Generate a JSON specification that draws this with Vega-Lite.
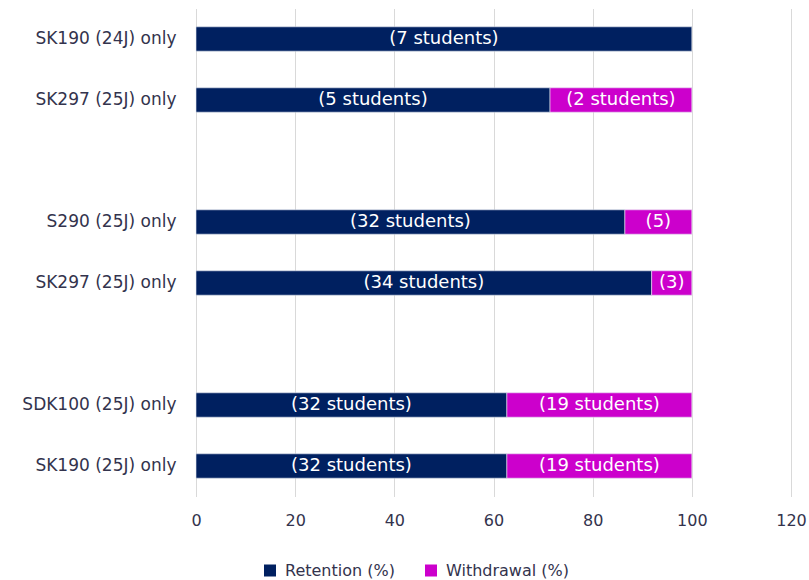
{
  "$schema": "https://vega.github.io/schema/vega-lite/v6.json",
  "width": 595,
  "height": 488,
  "autosize": "none",
  "padding": {"left": 196, "top": 8.5, "right": 18, "bottom": 83.5},
  "background": "white",
  "config": {
    "view": {"stroke": null},
    "font": "DejaVu Sans",
    "axis": {"labelColor": "#33334d", "labelFont": "DejaVu Sans"},
    "legend": {"labelColor": "#33334d", "labelFont": "DejaVu Sans"}
  },
  "data": {
    "values": [
      {"row": "1|SK190 (24J) only", "measure": "Retention (%)", "pct": 100, "lab": "(7 students)"},
      {"row": "2|SK297 (25J) only", "measure": "Retention (%)", "pct": 71.4, "lab": "(5 students)"},
      {"row": "2|SK297 (25J) only", "measure": "Withdrawal (%)", "pct": 28.6, "lab": "(2 students)"},
      {"row": "4|S290 (25J) only", "measure": "Retention (%)", "pct": 86.5, "lab": "(32 students)"},
      {"row": "4|S290 (25J) only", "measure": "Withdrawal (%)", "pct": 13.5, "lab": "(5)"},
      {"row": "5|SK297 (25J) only", "measure": "Retention (%)", "pct": 91.9, "lab": "(34 students)"},
      {"row": "5|SK297 (25J) only", "measure": "Withdrawal (%)", "pct": 8.1, "lab": "(3)"},
      {"row": "7|SDK100 (25J) only", "measure": "Retention (%)", "pct": 62.7, "lab": "(32 students)"},
      {"row": "7|SDK100 (25J) only", "measure": "Withdrawal (%)", "pct": 37.3, "lab": "(19 students)"},
      {"row": "8|SK190 (25J) only", "measure": "Retention (%)", "pct": 62.7, "lab": "(32 students)"},
      {"row": "8|SK190 (25J) only", "measure": "Withdrawal (%)", "pct": 37.3, "lab": "(19 students)"}
    ]
  },
  "transform": [
    {"calculate": "datum.measure === 'Retention (%)' ? 0 : 1", "as": "ord"},
    {"stack": "pct", "groupby": ["row"], "sort": [{"field": "ord"}], "as": ["x0", "x1"]},
    {"calculate": "(datum.x0 + datum.x1) / 2", "as": "xmid"}
  ],
  "encoding": {
    "y": {
      "field": "row",
      "type": "nominal",
      "scale": {
        "domain": ["1|SK190 (24J) only", "2|SK297 (25J) only", "3|", "4|S290 (25J) only", "5|SK297 (25J) only", "6|", "7|SDK100 (25J) only", "8|SK190 (25J) only"],
        "paddingInner": 0.6,
        "paddingOuter": 0.3
      },
      "axis": {
        "title": null,
        "domain": false,
        "ticks": false,
        "labelExpr": "split(datum.value, '|')[1]",
        "labelFontSize": 17,
        "labelPadding": 20
      }
    }
  },
  "layer": [
    {
      "mark": {"type": "bar", "stroke": "#e6e9f2", "strokeWidth": 0.6},
      "encoding": {
        "x": {
          "field": "x0",
          "type": "quantitative",
          "scale": {"domain": [0, 120], "nice": false},
          "axis": {
            "title": null,
            "values": [0, 20, 40, 60, 80, 100, 120],
            "domain": false,
            "ticks": false,
            "grid": true,
            "gridColor": "#d9d9d9",
            "gridWidth": 1,
            "labelFlush": false,
            "labelFontSize": 16,
            "labelPadding": 16
          }
        },
        "x2": {"field": "x1"},
        "color": {
          "field": "measure",
          "type": "nominal",
          "scale": {"domain": ["Retention (%)", "Withdrawal (%)"], "range": ["#002060", "#cc00cc"]},
          "legend": {
            "title": null,
            "orient": "none",
            "direction": "horizontal",
            "legendX": 66,
            "legendY": 554,
            "symbolType": "square",
            "symbolSize": 144,
            "symbolStrokeWidth": 0,
            "labelFontSize": 16,
            "labelOffset": 7,
            "columnPadding": 28
          }
        }
      }
    },
    {
      "mark": {"type": "text", "color": "white", "fontSize": 18, "align": "center", "baseline": "middle"},
      "encoding": {
        "x": {"field": "xmid", "type": "quantitative"},
        "text": {"field": "lab"}
      }
    }
  ]
}
